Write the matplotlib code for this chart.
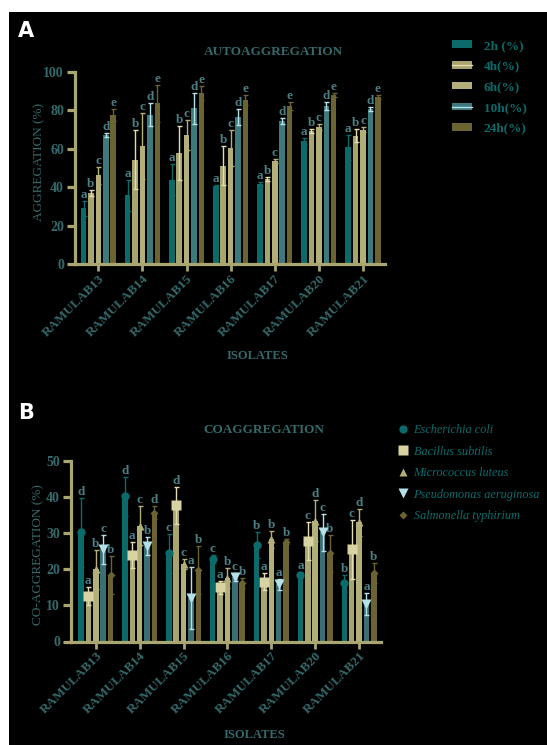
import matplotlib
matplotlib.use("Agg")
import matplotlib.pyplot as plt
import numpy as np
from matplotlib.lines import Line2D
from matplotlib.patches import Patch, Rectangle

isolates = ["RAMULAB13", "RAMULAB14", "RAMULAB15", "RAMULAB16",
            "RAMULAB17", "RAMULAB20", "RAMULAB21"]

# A: autoaggregation (%) at each time point, mean and error
auto_labels = ["2h (%)", "4h(%)", "6h(%)", "10h(%)", "24h(%)"]
auto_2h = [29.0, 35.7, 43.9, 40.4, 41.8, 64.2, 60.7]
auto_2h_err = [4.0, 8.0, 8.0, 1.0, 1.0, 1.5, 6.4]
auto_4h = [36.8, 54.4, 58.0, 51.2, 44.2, 69.4, 66.8]
auto_4h_err = [1.5, 15.5, 14.0, 10.0, 1.0, 1.0, 3.5]
auto_6h = [46.2, 61.5, 67.3, 60.3, 53.8, 71.4, 70.0]
auto_6h_err = [4.5, 17.0, 7.7, 9.4, 1.0, 1.5, 1.5]
auto_10h = [67.3, 77.7, 81.0, 76.6, 74.5, 82.3, 80.6]
auto_10h_err = [1.0, 6.0, 8.0, 4.0, 1.5, 2.0, 1.0]
auto_24h = [77.7, 83.7, 89.0, 85.3, 82.3, 88.0, 87.0]
auto_24h_err = [3.0, 9.5, 3.5, 2.5, 2.0, 1.0, 1.0]
auto_sig = ["a", "b", "c", "d", "e"]

# B: co-aggregation (%) with each pathogen
coag_labels = ["Escherichia coli", "Bacillus subtilis", "Micrococcus luteus",
               "Pseudomonas aeruginosa", "Salmonella typhirium"]
ecoli = [30.2, 40.2, 24.4, 22.9, 26.8, 18.4, 16.1]
ecoli_err = [9.5, 5.5, 5.4, 1.1, 3.6, 0.8, 2.3]
ecoli_sig = ["d", "d", "c", "c", "b", "a", "b"]
bsub = [12.6, 24.0, 37.7, 15.0, 16.6, 27.9, 25.5]
bsub_err = [2.5, 3.6, 5.2, 1.8, 2.3, 5.2, 8.2]
bsub_sig = ["a", "a", "d", "a", "a", "c", "c"]
mlut = [20.0, 32.1, 21.4, 17.5, 28.3, 33.5, 33.0]
mlut_err = [5.4, 5.3, 1.4, 2.8, 2.3, 5.7, 3.7]
mlut_sig = ["b", "c", "c", "b", "b", "d", "d"]
paer = [25.5, 26.5, 12.1, 17.9, 15.9, 30.2, 10.4]
paer_err = [4.0, 2.5, 8.5, 1.2, 1.5, 5.0, 3.0]
paer_sig = ["c", "b", "a", "c", "a", "c", "a"]
styph = [18.4, 35.6, 19.8, 16.3, 27.7, 24.4, 18.9]
styph_err = [5.3, 1.8, 6.7, 1.4, 0.7, 5.1, 2.8]
styph_sig = ["b", "d", "b", "b", "b", "b", "b"]

TEAL = "#0b6b6b"
KHAKI = "#a8a46e"
KHAKI_LT = "#b3af79"
SLATE = "#3d7a7e"
OLIVE = "#6b6332"
PALE = "#e2dcb0"
PALE_CYAN = "#b4e0e8"
AXIS = "#aaa671"
TXT = "#346a6b"
SIG = "#4a7f84"

plt.rcParams["font.family"] = ["Liberation Serif", "DejaVu Serif"]

fig = plt.figure(figsize=(5.47, 7.45), dpi=100, facecolor="white")
fig.patches.append(Rectangle((9 / 547, 0), 1, 1 - 12 / 745, transform=fig.transFigure,
                             facecolor="black", edgecolor="none", zorder=-10))

x = np.arange(len(isolates))
pitch = 0.168
width = 0.125


def style_axes(ax, ytop, yticks):
    ax.set_facecolor("none")
    for s in ("top", "right"):
        ax.spines[s].set_visible(False)
    for s in ("left", "bottom"):
        ax.spines[s].set_color(AXIS)
        ax.spines[s].set_linewidth(2.3)
    ax.spines["left"].set_bounds(0, ytop)
    ax.set_ylim(0, ytop)
    ax.set_yticks(yticks)
    ax.set_xticks(x)
    ax.set_xticklabels(isolates, rotation=45, ha="right", rotation_mode="anchor")
    ax.tick_params(axis="y", colors=AXIS, width=2.3, length=6, labelcolor=TXT,
                   labelsize=10, pad=2)
    ax.tick_params(axis="x", colors=AXIS, width=2.0, length=5, labelcolor=TXT,
                   labelsize=9.5, pad=1)
    for lab in ax.get_xticklabels() + ax.get_yticklabels():
        lab.set_fontweight("bold")
    ax.set_xlabel("ISOLATES", color=TXT, fontsize=9, fontweight="bold")


# ---- A: autoaggregation ----
axA = fig.add_axes([75 / 547, 1 - 264 / 745, 310 / 547, 192 / 745])
auto_series = [
    (auto_2h, auto_2h_err, TEAL, TEAL),
    (auto_4h, auto_4h_err, KHAKI, PALE),
    (auto_6h, auto_6h_err, KHAKI_LT, KHAKI_LT),
    (auto_10h, auto_10h_err, SLATE, PALE_CYAN),
    (auto_24h, auto_24h_err, OLIVE, OLIVE),
]
for i, (vals, errs, fc, ec) in enumerate(auto_series):
    xs = x + (i - 2) * pitch
    axA.bar(xs, vals, width, color=fc, yerr=errs,
            error_kw=dict(ecolor=ec, elinewidth=1.0, capsize=1.8, capthick=1.0))
    for xi, v, e in zip(xs, vals, errs):
        axA.annotate(auto_sig[i], (xi, v + e), xytext=(0, 0), textcoords="offset points",
                     ha="center", va="bottom", color=SIG, fontsize=9.5, fontweight="bold")
axA.set_xlim(-0.53, 6.5)
style_axes(axA, 100, [0, 20, 40, 60, 80, 100])
axA.set_ylabel("AGGREGATION (%)", color=TXT, fontsize=9.5)
axA.yaxis.set_label_coords(-0.097, 0.53)
axA.xaxis.set_label_coords(0.59, -0.45)
axA.set_title("AUTOAGGREGATION", color=TXT, fontsize=9.5, fontweight="bold",
              x=0.64, y=1.045)

handlesA = [
    Patch(facecolor=TEAL),
    (Patch(facecolor=KHAKI), Line2D([], [], color=PALE, lw=1)),
    Patch(facecolor=KHAKI_LT),
    (Patch(facecolor=SLATE), Line2D([], [], color=PALE_CYAN, lw=1)),
    Patch(facecolor=OLIVE),
]
legA = fig.legend(handlesA, auto_labels, loc="upper left",
                  bbox_to_anchor=(440 / 547, 1 - 28 / 745), frameon=False,
                  handlelength=1.55, handleheight=0.5, handletextpad=0.85,
                  labelspacing=0.66, prop=dict(size=9.5, weight="bold"))
for t in legA.get_texts():
    t.set_color(TEAL)

# ---- B: co-aggregation ----
axB = fig.add_axes([71 / 547, 1 - 641.5 / 745, 310.5 / 547, 180.5 / 745])
coag_series = [
    (ecoli, ecoli_err, ecoli_sig, TEAL, TEAL, "o", TEAL, 6),
    (bsub, bsub_err, bsub_sig, KHAKI, PALE, "s", "#d9d3a3", 7),
    (mlut, mlut_err, mlut_sig, KHAKI_LT, KHAKI_LT, "^", KHAKI_LT, 6),
    (paer, paer_err, paer_sig, "#3a7074", PALE_CYAN, "v", PALE_CYAN, 6.5),
    (styph, styph_err, styph_sig, OLIVE, OLIVE, "D", OLIVE, 4.5),
]
for i, (vals, errs, sig, fc, ec, mk, mc, ms) in enumerate(coag_series):
    xs = x + (i - 2) * pitch
    axB.bar(xs, vals, width, color=fc, zorder=2)
    axB.errorbar(xs, vals, yerr=errs, fmt=mk, color=mc, ms=ms, mec="none",
                 ecolor=ec, elinewidth=1.0, capsize=1.8, capthick=1.0, zorder=3)
    for xi, v, e, s in zip(xs, vals, errs, sig):
        axB.annotate(s, (xi, v + e), xytext=(0, 0), textcoords="offset points",
                     ha="center", va="bottom", color=SIG, fontsize=9.5, fontweight="bold")
axB.set_xlim(-0.565, 6.51)
style_axes(axB, 50, [0, 10, 20, 30, 40, 50])
axB.set_ylabel("CO-AGGREGATION (%)", color=TXT, fontsize=9.5)
axB.yaxis.set_label_coords(-0.087, 0.48)
axB.xaxis.set_label_coords(0.59, -0.485)
axB.set_title("COAGGREGATION", color=TXT, fontsize=9.5, fontweight="bold",
              x=0.62, y=1.11)

handlesB = [Line2D([], [], ls="none", marker=mk, color=mc, mec="none", ms=ms)
            for (_, _, _, _, _, mk, mc, ms) in coag_series]
legB = fig.legend(handlesB, coag_labels, loc="upper left",
                  bbox_to_anchor=(386 / 547, 1 - 413 / 745), frameon=False,
                  handlelength=0.9, handletextpad=0.45, labelspacing=0.78,
                  prop=dict(size=8.8, style="italic"))
for t in legB.get_texts():
    t.set_color(TEAL)

fig.text(18 / 547, 1 - 31 / 745, "A", color="white", fontsize=15, fontweight="bold",
         family="DejaVu Sans", va="center")
fig.text(18 / 547, 1 - 413 / 745, "B", color="white", fontsize=15, fontweight="bold",
         family="DejaVu Sans", va="center")

fig.savefig("out.png", dpi=100, facecolor=fig.get_facecolor())
